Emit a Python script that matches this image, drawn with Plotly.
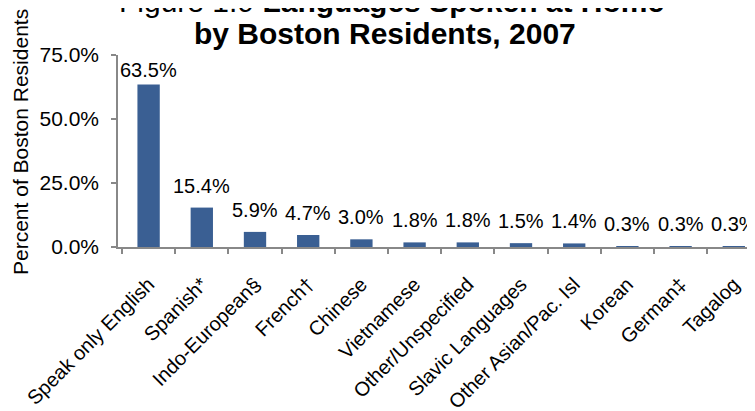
import plotly.graph_objects as go

categories = ["Speak only English", "Spanish*", "Indo-European§", "French†", "Chinese",
              "Vietnamese", "Other/Unspecified", "Slavic Languages", "Other Asian/Pac. Isl",
              "Korean", "German‡", "Tagalog"]
values = [63.5, 15.4, 5.9, 4.7, 3.0, 1.8, 1.8, 1.5, 1.4, 0.3, 0.3, 0.3]
y_ticks = [0, 25, 50, 75]
y_ticklabels = ["0.0%", "25.0%", "50.0%", "75.0%"]

FONT = "Liberation Sans, Arial, sans-serif"
OFF = 8  # page body margin offset
W, H = 755 - OFF, 411 - OFF
ML, MT, MB, MR = 118 - OFF, 55 - OFF, 164, 0
plot_h = H - MT - MB
plot_w = W - ML - MR
px_per_unit = plot_h / 75.0

fig = go.Figure()
fig.add_trace(go.Bar(
    x=list(range(len(categories))), y=values,
    marker=dict(color="#3A5F93", line=dict(width=0)),
    width=0.42, hoverinfo="skip",
))

# data labels above bars, kept inside plot area
for i, v in enumerate(values):
    bar_top_px = v * px_per_unit
    shift = 9
    if bar_top_px + shift + 24 > plot_h:
        shift = max(0, plot_h - bar_top_px - 28)
    fig.add_annotation(x=i, y=v, xref="x", yref="y", text=f"{v:.1f}%",
                       showarrow=False, yanchor="bottom", yshift=shift,
                       font=dict(family=FONT, size=20, color="#000000"))

def xp(px):
    return (px - OFF - ML) / plot_w
def yp(py):
    return (H - MB - (py - OFF)) / plot_h

fig.add_annotation(xref="paper", yref="paper", x=xp(391), y=yp(2), xanchor="center", yanchor="middle",
                   text="Figure 1.9 <b>Languages Spoken at Home</b>", showarrow=False,
                   font=dict(family=FONT, size=30, color="#000000"))
fig.add_annotation(xref="paper", yref="paper", x=xp(385), y=yp(33), xanchor="center", yanchor="middle",
                   text="<b>by Boston Residents, 2007</b>", showarrow=False,
                   font=dict(family=FONT, size=30, color="#000000"))
fig.add_annotation(xref="paper", yref="paper", x=xp(20), y=yp(142), xanchor="center", yanchor="middle",
                   text="Percent of Boston Residents", textangle=-90, showarrow=False,
                   font=dict(family=FONT, size=21, color="#000000"))

cat_px = 53.2
x0 = -0.5 - 4 / cat_px
xr = [x0, x0 + plot_w / cat_px]
fig.update_layout(
    width=W, height=H,
    margin=dict(l=ML, r=MR, t=MT, b=MB, autoexpand=False),
    paper_bgcolor="white", plot_bgcolor="white",
    showlegend=False,
    font=dict(family=FONT, color="#000000"),
    xaxis=dict(
        type="linear", range=xr,
        tickmode="array", tickvals=list(range(len(categories))), ticktext=categories,
        tickangle=-45, showline=True, linecolor="#888888", linewidth=1.5,
        ticks="", showgrid=False, zeroline=False, ticklabelstandoff=16,
        tickfont=dict(family=FONT, size=20, color="#000000"),
    ),
    xaxis2=dict(
        overlaying="x", matches="x", range=xr,
        tickmode="array", tickvals=[i - 0.5 for i in range(len(categories) + 1)],
        showticklabels=False, ticks="outside", ticklen=6, tickcolor="#888888", tickwidth=1.5,
        showgrid=False, zeroline=False, showline=False, side="bottom", anchor="y",
    ),
    yaxis=dict(
        range=[0, 75], tickmode="array", tickvals=y_ticks, ticktext=y_ticklabels,
        showline=True, linecolor="#888888", linewidth=1.5,
        ticks="outside", ticklen=5, tickcolor="#888888", tickwidth=1.5,
        showgrid=False, zeroline=False, ticklabelstandoff=8,
        tickfont=dict(family=FONT, size=21, color="#000000"),
    ),
)
# invisible trace to activate the boundary-tick axis
fig.add_trace(go.Scatter(x=[0], y=[0], xaxis="x2", yaxis="y", mode="markers",
                         marker=dict(opacity=0), hoverinfo="skip", showlegend=False))

fig.write_html("out.html")
